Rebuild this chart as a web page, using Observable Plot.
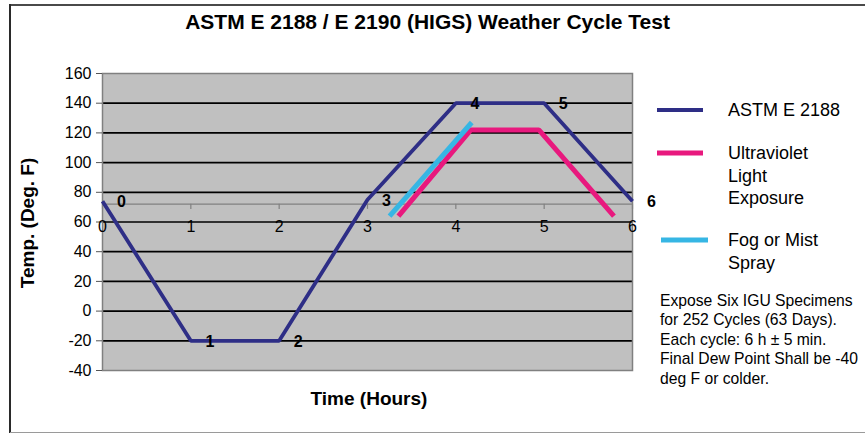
<!DOCTYPE html>
<html><head><meta charset="utf-8">
<script src="https://cdn.jsdelivr.net/npm/d3@7"></script>
<script src="https://cdn.jsdelivr.net/npm/@observablehq/plot@0.6"></script>
<style>
html,body{margin:0;padding:0;background:#fff;}
#chart{position:relative;width:865px;height:434px;overflow:hidden;background:#fff;}
</style></head><body><div id="chart"></div>
<script>
// ---- data ----
const hours = [0, 1, 2, 3, 4, 5, 6];
const astmTemp = [74, -20, -20, 75, 140, 140, 74];
const pointLabels = ["0", "1", "2", "3", "4", "5", "6"];
const uvHours = [3.35, 4.17, 4.94, 5.79];
const uvTemp = [64, 122, 122, 64];
const fogHours = [3.25, 4.18];
const fogTemp = [64, 127];
const yTicks = [-40, -20, 0, 20, 40, 60, 80, 100, 120, 140, 160];
const xTicks = [0, 1, 2, 3, 4, 5, 6];
const axisCross = 72;
const titleText = "ASTM E 2188 / E 2190 (HIGS) Weather Cycle Test";
const yTitle = "Temp. (Deg. F)";
const xTitle = "Time (Hours)";
const legendNames = [["ASTM E 2188"], ["Ultraviolet", "Light", "Exposure"], ["Fog or Mist", "Spray"]];
const colors = ["#2E2E86", "#E8197E", "#36B6E4"];
const noteLines = ["Expose Six IGU Specimens", "for 252 Cycles (63 Days).", "Each cycle: 6 h \u00B1 5 min.", "Final Dew Point Shall be -40", "deg F or colder."];

const astm = hours.map((h, i) => ({h, t: astmTemp[i], label: pointLabels[i]}));
const uv = uvHours.map((h, i) => ({h, t: uvTemp[i]}));
const fog = fogHours.map((h, i) => ({h, t: fogTemp[i]}));
const FONT = '"Liberation Sans", Arial, sans-serif';

const plot = Plot.plot({
  width: 865, height: 434,
  marginLeft: 102, marginRight: 233, marginTop: 73, marginBottom: 64,
  x: {domain: [0, 6], axis: null},
  y: {domain: [-40, 160], axis: null},
  style: {fontFamily: FONT, background: "transparent", overflow: "visible"},
  marks: [
    Plot.frame({fill: "#C0C0C0"}),
    Plot.gridY(yTicks.slice(1, -1), {stroke: "#000", strokeOpacity: 1, strokeWidth: 1.7}),
    Plot.ruleY([axisCross], {y: d => d, stroke: "#808080", strokeWidth: 1.3}),
    Plot.ruleX(xTicks, {x: d => d, y1: () => axisCross, y2: () => axisCross - 3.5, stroke: "#808080", strokeWidth: 1.2}),
    Plot.frame({stroke: "#808080", strokeWidth: 1.5}),
    Plot.axisY(yTicks, {tickSize: 6, tickPadding: 5, fontSize: 16, tickFormat: d => String(d), label: null, stroke: "#555"}),
    Plot.text(xTicks, {x: d => d, y: () => axisCross, text: d => String(d), dy: 23, fontSize: 16}),
    Plot.line(astm, {x: "h", y: "t", stroke: colors[0], strokeWidth: 3.8, strokeLinecap: "butt", strokeLinejoin: "miter"}),
    Plot.line(uv, {x: "h", y: "t", stroke: colors[1], strokeWidth: 5, strokeLinecap: "butt", strokeLinejoin: "miter"}),
    Plot.line(fog, {x: "h", y: "t", stroke: colors[2], strokeWidth: 5, strokeLinecap: "butt"}),
    Plot.text(astm, {x: "h", y: "t", text: "label", dx: 19, dy: 1, fontSize: 16, fontWeight: "bold"})
  ]
});
document.getElementById("chart").appendChild(plot);

const svg = d3.select(plot);
const g = svg.append("g").attr("font-family", FONT).attr("fill", "#000").attr("text-anchor", "start");
// outer frame
g.append("line").attr("x1", 9).attr("y1", 5).attr("x2", 866).attr("y2", 5).attr("stroke", "#4a4a4a").attr("stroke-width", 2);
g.append("line").attr("x1", 10).attr("y1", 4).attr("x2", 10).attr("y2", 433).attr("stroke", "#2a2a2a").attr("stroke-width", 2);
g.append("line").attr("x1", 10).attr("y1", 432.5).attr("x2", 866).attr("y2", 432.5).attr("stroke", "#9a9a9a").attr("stroke-width", 1);

// title
g.append("text").attr("x", 427.5).attr("y", 21).attr("text-anchor", "middle").attr("dominant-baseline", "central")
  .attr("font-weight", "bold").attr("font-size", 21).text(titleText);
// axis titles
g.append("text").attr("transform", "translate(27,223) rotate(-90)").attr("text-anchor", "middle").attr("dominant-baseline", "central")
  .attr("font-weight", "bold").attr("font-size", 19).text(yTitle);
g.append("text").attr("x", 369).attr("y", 398).attr("text-anchor", "middle").attr("dominant-baseline", "central")
  .attr("font-weight", "bold").attr("font-size", 19).text(xTitle);

// legend
const legendY = [110, 153, 240];
const legendLineX = [[657, 703], [657, 703], [661, 708]];
const legendStroke = [4, 5, 5];
legendNames.forEach((lines, i) => {
  g.append("line").attr("x1", legendLineX[i][0]).attr("x2", legendLineX[i][1]).attr("y1", legendY[i]).attr("y2", legendY[i])
    .attr("stroke", colors[i]).attr("stroke-width", legendStroke[i]);
  lines.forEach((s, j) => {
    g.append("text").attr("x", 728).attr("y", legendY[i] + j * 22.5).attr("dominant-baseline", "central")
      .attr("text-anchor", "start").attr("font-size", 18).text(s);
  });
});

// note
noteLines.forEach((s, j) => {
  g.append("text").attr("x", 660).attr("y", 300 + j * 19.5).attr("dominant-baseline", "central")
    .attr("text-anchor", "start").attr("font-size", 15.7).text(s);
});
</script></body></html>
